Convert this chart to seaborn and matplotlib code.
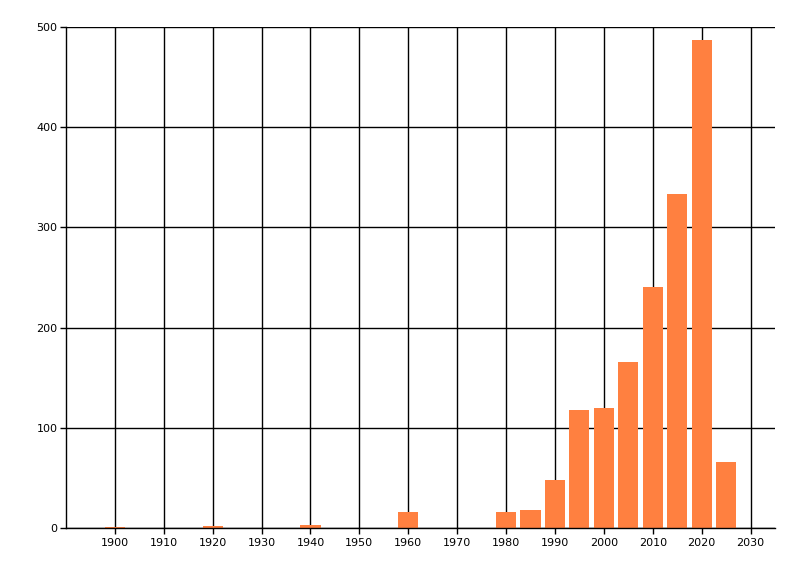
import matplotlib
matplotlib.use("Agg")
import matplotlib.pyplot as plt
import seaborn as sns
import pandas as pd

# bin start years (5-year bins) and counts
years = [1900, 1920, 1940, 1960, 1980, 1985, 1990, 1995, 2000, 2005, 2010, 2015, 2020, 2025]
counts = [1, 2, 3, 16, 16, 18, 48, 118, 120, 166, 241, 333, 487, 66]
xticks = list(range(1900, 2031, 10))
yticks = [0, 100, 200, 300, 400, 500]

data = pd.DataFrame({"year": years, "count": counts})

sns.set_style("ticks")
plt.rcParams['font.family'] = ['DejaVu Sans']

fig = plt.figure(figsize=(8, 5.76), dpi=100)
ax = fig.add_axes([66 / 800, 1 - 528 / 576, (775 - 66) / 800, (528 - 27) / 576])

# draw grid first so bars sit on top
for x in xticks:
    ax.axvline(x, color="black", lw=1, zorder=0)
for y in yticks:
    ax.axhline(y, color="black", lw=1, zorder=0)

ax.bar(data["year"], data["count"], width=4.1, color="#FF8040", linewidth=0, zorder=2)

ax.set_xlim(1890, 2035)
ax.set_ylim(0, 500)
ax.set_xticks(xticks)
ax.set_yticks(yticks)
ax.tick_params(axis="both", labelsize=8, length=4, width=1, color="black",
               labelcolor="black", direction="out", bottom=True, left=True)
ax.tick_params(axis="x", pad=3)
ax.tick_params(axis="y", pad=2)

for side in ["top", "right"]:
    ax.spines[side].set_visible(False)
for side in ["left", "bottom"]:
    ax.spines[side].set_color("black")
    ax.spines[side].set_linewidth(1)

ax.set_xlabel("")
ax.set_ylabel("")

fig.savefig("out.png", dpi=100)
